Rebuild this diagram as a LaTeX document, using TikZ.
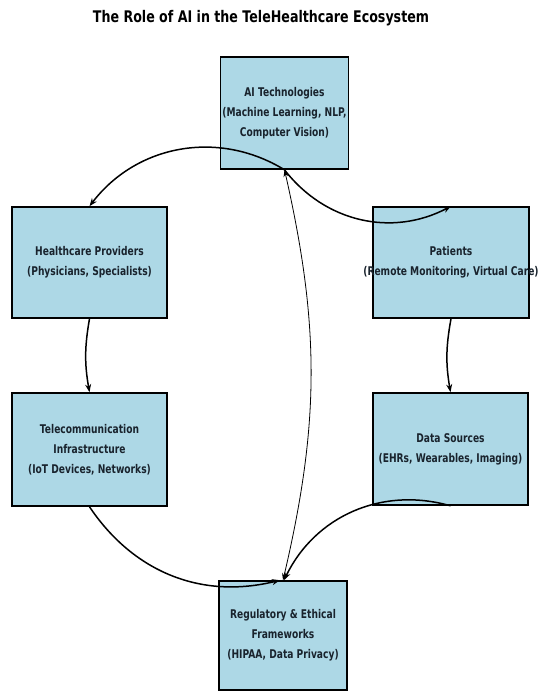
\documentclass[tikz,border=0pt]{standalone}
\usepackage{fontspec}
\setmainfont{DejaVu Sans}[FakeStretch=0.76]
\newfontfamily\titlefont{DejaVu Sans}[FakeStretch=0.79]
\usetikzlibrary{arrows.meta}
\definecolor{boxfill}{RGB}{173,216,230}
\definecolor{txt}{RGB}{25,35,45}
\begin{document}
\begin{tikzpicture}[x=1pt,y=-1pt,
  box/.style={draw=black, line width=1.6pt, fill=boxfill, minimum width=#1, align=center,
    text=txt, font=\fontsize{12}{20}\selectfont\bfseries, inner sep=0pt},
  conn/.style={line width=1.5pt, -{Stealth[length=8pt,width=6pt]}},
  thin/.style={line width=0.8pt, {Stealth[length=7pt,width=5pt]}-{Stealth[length=7pt,width=5pt]}}]
\useasboundingbox (0,0) rectangle (541,693);
\node[text=black, font=\titlefont\fontsize{16}{19}\selectfont\bfseries] (title) at (261,18) {The Role of AI in the TeleHealthcare Ecosystem};
\node[box=128pt, minimum height=112pt] (ai) at (284.5,113) {AI Technologies\\(Machine Learning, NLP,\\Computer Vision)};
\node[box=155pt, minimum height=111pt] (hp) at (89.5,262.5) {Healthcare Providers\\(Physicians, Specialists)};
\node[box=156pt, minimum height=111pt] (pt) at (451,262.5) {Patients\\\makebox[0pt][c]{(Remote Monitoring, Virtual Care)}};
\node[box=155pt, minimum height=113pt] (tc) at (89.5,449.5) {Telecommunication\\Infrastructure\\(IoT Devices, Networks)};
\node[box=155pt, minimum height=112pt] (ds) at (450.5,449) {Data Sources\\(EHRs, Wearables, Imaging)};
\node[box=128pt, minimum height=109pt] (rg) at (283,635.5) {Regulatory \& Ethical\\Frameworks\\(HIPAA, Data Privacy)};
\draw[conn] (ai.south) to[bend right=42] (hp.north);
\draw[conn] (ai.south) to[bend right=40] (pt.north);
\draw[conn] (hp.south) to[bend right=10] (tc.north);
\draw[conn] (pt.south) to[bend right=10] (ds.north);
\draw[conn] (tc.south) to[bend right=35] ([xshift=-3pt]rg.north);
\draw[conn] (ds.south) to[bend right=40] ([xshift=1pt]rg.north);
\draw[thin] (ai.south) to[bend left=13] (rg.north);
\end{tikzpicture}
\end{document}
